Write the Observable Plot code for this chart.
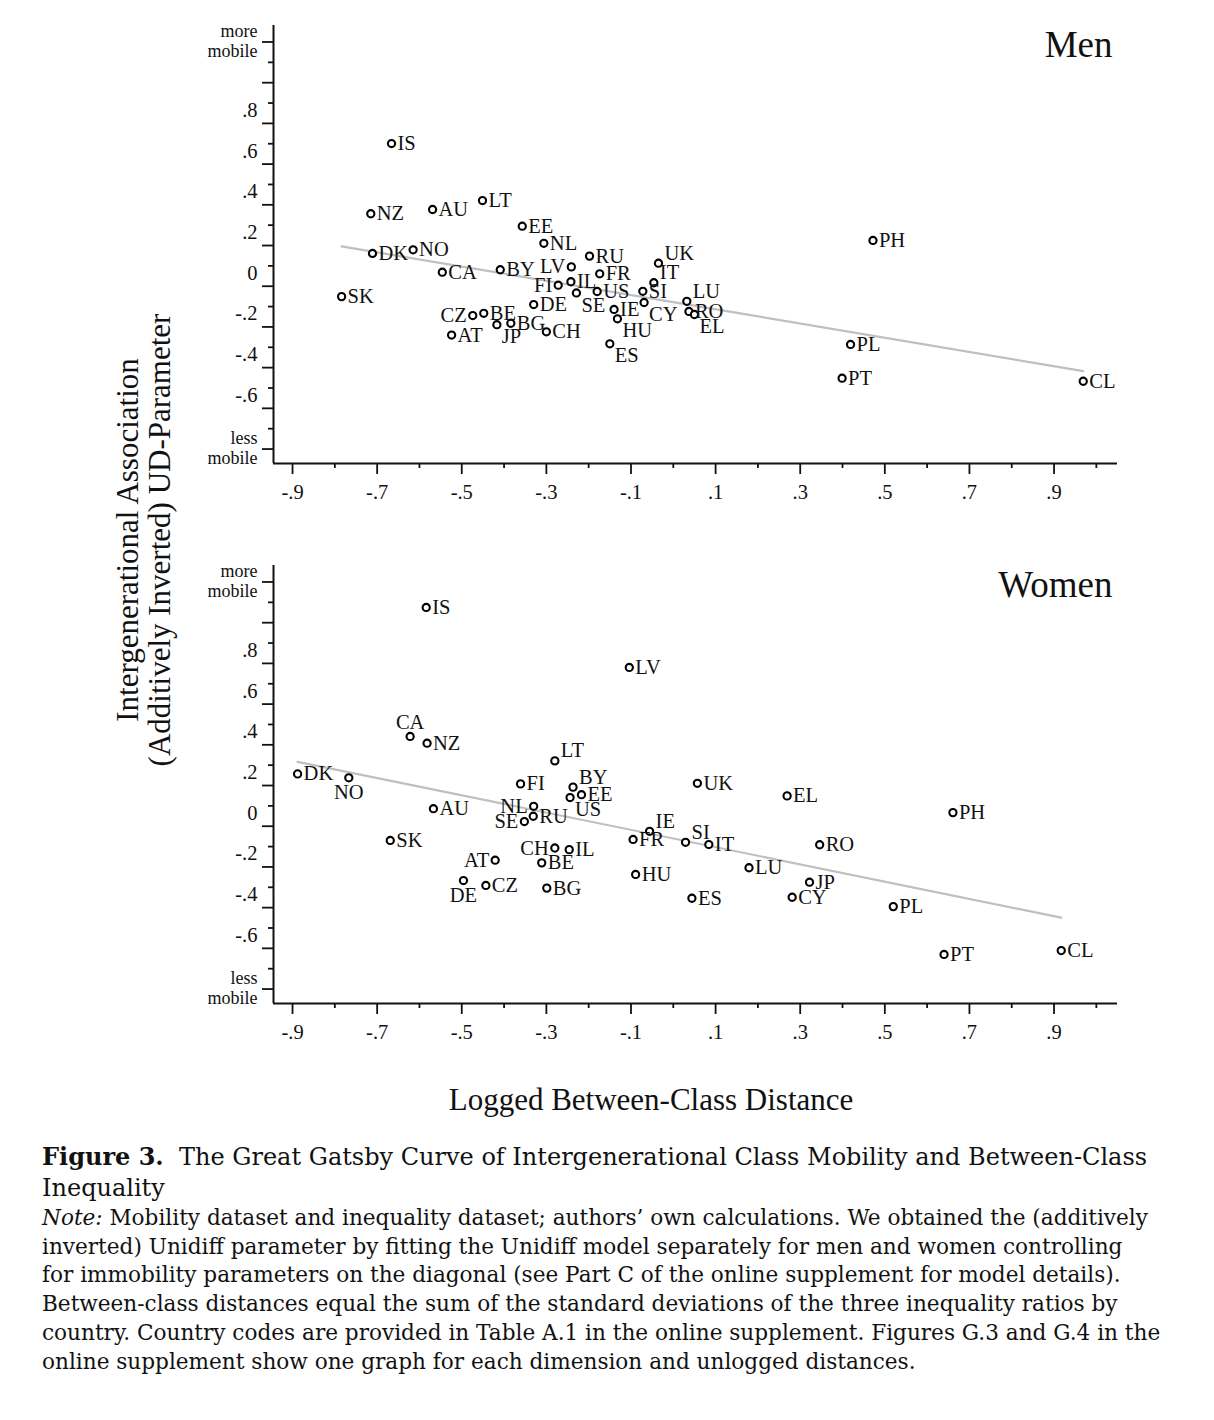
<!DOCTYPE html>
<html>
<head>
<meta charset="utf-8">
<script src="https://cdn.jsdelivr.net/npm/d3@7"></script>
<script src="https://cdn.jsdelivr.net/npm/@observablehq/plot@0.6"></script>
<style>
  html, body { margin: 0; padding: 0; background: #fff; }
  #wrap { position: relative; width: 1214px; height: 1420px; overflow: hidden; }
  .panel { position: absolute; left: 0; }
  #ytitle {
    position: absolute; left: 144px; top: 540px;
    transform: translate(-50%, -50%) rotate(-90deg);
    font-family: "Liberation Serif", serif; font-size: 31px; line-height: 32px;
    text-align: center; white-space: nowrap; color: #111;
  }
  #xtitle {
    position: absolute; left: 651px; top: 1100px; transform: translate(-50%, -50%);
    font-family: "Liberation Serif", serif; font-size: 31px; white-space: nowrap; color: #111;
  }
  #caption {
    position: absolute; left: 42px; top: 1141px; white-space: nowrap;
    font-family: "DejaVu Serif", serif; color: #111;
  }
  #caption .t { font-size: 24px; line-height: 31px; }
  #caption .n { font-size: 21.6px; line-height: 28.7px; }
</style>
</head>
<body>
<div id="wrap">
  <div id="men" class="panel" style="top:0px"></div>
  <div id="women" class="panel" style="top:540px"></div>
  <div id="ytitle">Intergenerational Association<br>(Additively Inverted) UD-Parameter</div>
  <div id="xtitle">Logged Between-Class Distance</div>
  <div id="caption">
    <div class="t"><b>Figure 3.</b>&nbsp; The Great Gatsby Curve of Intergenerational Class Mobility and Between-Class<br>Inequality</div>
    <div class="n"><i>Note:</i> Mobility dataset and inequality dataset; authors’ own calculations. We obtained the (additively<br>inverted) Unidiff parameter by fitting the Unidiff model separately for men and women controlling<br>for immobility parameters on the diagonal (see Part C of the online supplement for model details).<br>Between-class distances equal the sum of the standard deviations of the three inequality ratios by<br>country. Country codes are provided in Table A.1 in the online supplement. Figures G.3 and G.4 in the<br>online supplement show one graph for each dimension and unlogged distances.</div>
  </div>
</div>
<script>
// ---------------- Data ----------------
// Men
const menCountries = ["IS","NZ","AU","LT","EE","NL","DK","NO","CA","BY","LV","RU","FR","FI","IL","SE","US","DE","SK","CZ","BE","JP","BG","CH","AT","UK","IT","SI","CY","LU","RO","EL","IE","HU","ES","PH","PL","PT","CL"];
const menDistance = [-0.666,-0.715,-0.569,-0.451,-0.357,-0.306,-0.711,-0.615,-0.546,-0.409,-0.241,-0.198,-0.174,-0.272,-0.242,-0.229,-0.180,-0.330,-0.784,-0.474,-0.448,-0.417,-0.384,-0.300,-0.524,-0.035,-0.046,-0.072,-0.069,0.032,0.037,0.050,-0.140,-0.132,-0.150,0.472,0.419,0.399,0.969];
const menUD = [0.701,0.356,0.377,0.421,0.295,0.211,0.161,0.179,0.069,0.081,0.095,0.148,0.061,0.005,0.022,-0.033,-0.026,-0.090,-0.051,-0.144,-0.133,-0.189,-0.182,-0.224,-0.240,0.113,0.017,-0.025,-0.080,-0.074,-0.124,-0.139,-0.114,-0.160,-0.283,0.225,-0.286,-0.452,-0.467];
// label clock positions (3 = right, 2 = upper right, 4 = lower right, 9 = left, 6 = below, 12 = above)
const menLabelPos = [3,3,3,3,3,3,3,3,3,3,9,3,3,9,3,4,3,3,3,9,3,4,3,3,3,2,2,3,4,2,3,4,3,4,4,3,3,3,3];

// Women
const womenCountries = ["IS","LV","CA","NZ","LT","DK","NO","FI","BY","EE","US","NL","RU","SE","AU","SK","CH","IL","AT","BE","DE","CZ","BG","UK","EL","IE","FR","SI","IT","RO","LU","HU","JP","ES","CY","PH","PL","PT","CL"];
const womenDistance = [-0.584,-0.104,-0.622,-0.582,-0.280,-0.888,-0.767,-0.361,-0.237,-0.217,-0.244,-0.330,-0.331,-0.352,-0.567,-0.669,-0.280,-0.246,-0.421,-0.311,-0.496,-0.443,-0.299,0.057,0.269,-0.056,-0.095,0.029,0.084,0.346,0.179,-0.089,0.322,0.044,0.281,0.661,0.520,0.640,0.917];
const womenUD = [1.075,0.780,0.441,0.408,0.321,0.257,0.238,0.208,0.192,0.155,0.141,0.098,0.049,0.023,0.086,-0.070,-0.107,-0.115,-0.167,-0.180,-0.267,-0.291,-0.304,0.211,0.149,-0.025,-0.065,-0.079,-0.090,-0.091,-0.204,-0.237,-0.275,-0.354,-0.349,0.067,-0.395,-0.630,-0.611];
const womenLabelPos = [3,3,12,3,2,3,6,3,2,3,4,9,3,9,3,3,9,3,9,3,6,3,3,3,3,2,3,2,3,3,3,3,3,3,3,3,3,3,3];

// Axis ticks
const xMajorTicks = [-0.9,-0.7,-0.5,-0.3,-0.1,0.1,0.3,0.5,0.7,0.9];
const xMinorTicks = [-0.8,-0.6,-0.4,-0.2,0,0.2,0.4,0.6,0.8,1.0];
const yMajorTicks = [-0.8,-0.6,-0.4,-0.2,0,0.2,0.4,0.6,0.8,1.0,1.2];
const yMinorTicks = [-0.7,-0.5,-0.3,-0.1,0.1,0.3,0.5,0.7,0.9,1.1];
const yNumberLabels = [-0.6,-0.4,-0.2,0,0.2,0.4,0.6,0.8];
const yEndLabels = [1.2,-0.8];
const yEndText = ["more\nmobile","less\nmobile"];

const xDomain = [-0.945, 1.05];
const yDomain = [-0.871, 1.281];

// ---------------- Chart ----------------
const FONT = "Liberation Serif";
const fmt = d => {
  if (Math.abs(d) < 1e-9) return "0";
  return (d < 0 ? "-" : "") + Math.abs(d).toFixed(1).replace(/^0/, "");
};
const posStyle = {
  3:  {dx: 6,  dy: 0,   textAnchor: "start"},
  2:  {dx: 6,  dy: -10, textAnchor: "start"},
  4:  {dx: 5,  dy: 12,  textAnchor: "start"},
  9:  {dx: -6, dy: 0,   textAnchor: "end"},
  6:  {dx: 0,  dy: 15,  textAnchor: "middle"},
  12: {dx: 0,  dy: -14, textAnchor: "middle"}
};

function panel(el, title, countries, xs, ys, pos) {
  const data = countries.map((c, i) => ({c, x: xs[i], y: ys[i], pos: pos[i]}));
  const labelMarks = Object.keys(posStyle).map(p => {
    const s = posStyle[p];
    return Plot.text(data.filter(d => d.pos === +p), {
      x: "x", y: "y", text: "c", dx: s.dx, dy: s.dy, textAnchor: s.textAnchor,
      fontSize: 20.5, fontFamily: FONT, fill: "#111"
    });
  });
  const chart = Plot.plot({
    width: 1214, height: 520,
    marginLeft: 273, marginRight: 97, marginTop: 25, marginBottom: 57,
    style: {fontFamily: FONT, background: "white", color: "#111"},
    x: {domain: xDomain, axis: null},
    y: {domain: yDomain, axis: null},
    marks: [
      // axis ticks
      Plot.axisX(xMajorTicks, {tickSize: 11, tickFormat: () => "", strokeWidth: 1.8, label: null}),
      Plot.axisX(xMinorTicks, {tickSize: 5, tickFormat: () => "", strokeWidth: 1.8, label: null}),
      Plot.axisX(xMajorTicks, {tickSize: 0, tickPadding: 21, tickFormat: fmt, fontSize: 20.5, fontFamily: FONT, label: null}),
      Plot.axisY(yMajorTicks, {tickSize: 11, tickFormat: () => "", strokeWidth: 1.8, label: null}),
      Plot.axisY(yMinorTicks, {tickSize: 5, tickFormat: () => "", strokeWidth: 1.8, label: null}),
      Plot.axisY(yNumberLabels, {tickSize: 0, tickPadding: 16, tickFormat: fmt, fontSize: 20.5, fontFamily: FONT, dy: -13, label: null}),
      Plot.axisY(yEndLabels, {tickSize: 0, tickPadding: 16, tickFormat: d => yEndText[yEndLabels.indexOf(d)], fontSize: 18, fontFamily: FONT, lineHeight: 1.1, dy: -1, label: null}),
      // axis lines
      Plot.ruleX([xDomain[0]], {stroke: "#111", strokeWidth: 2}),
      Plot.ruleY([yDomain[0]], {stroke: "#111", strokeWidth: 2}),
      // fit line
      Plot.linearRegressionY(data, {x: "x", y: "y", stroke: "#bfbfbf", strokeWidth: 2.2, ci: 0}),
      // points
      Plot.dot(data, {x: "x", y: "y", r: 3.6, stroke: "#000", strokeWidth: 2.1, fill: "white"}),
      ...labelMarks,
      Plot.text([title], {frameAnchor: "top-right", dx: -5, dy: 5, fontSize: 37, fontFamily: FONT, fill: "#111"})
    ]
  });
  document.getElementById(el).appendChild(chart);
}

panel("men", "Men", menCountries, menDistance, menUD, menLabelPos);
panel("women", "Women", womenCountries, womenDistance, womenUD, womenLabelPos);
</script>
</body>
</html>
